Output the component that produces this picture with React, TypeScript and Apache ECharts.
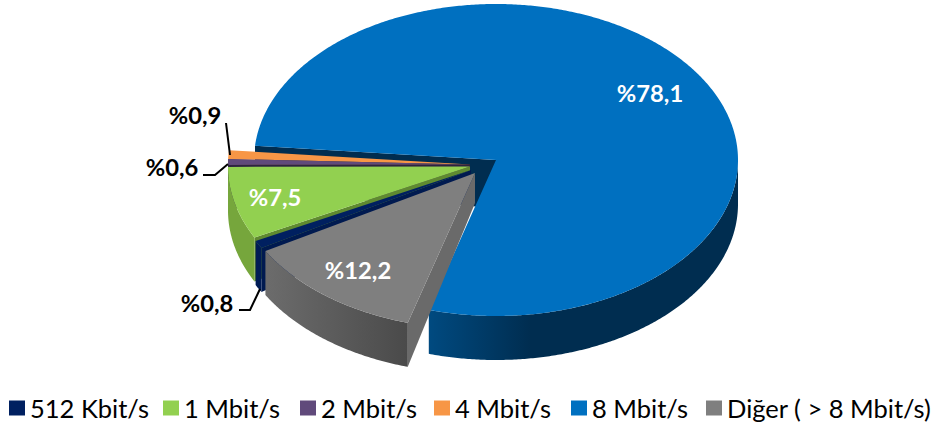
import React, { useEffect, useRef } from "react";
import * as echarts from "echarts";

const categories = ["512 Kbit/s", "1 Mbit/s", "2 Mbit/s", "4 Mbit/s", "8 Mbit/s", "Diğer ( > 8 Mbit/s)"];
const values = [0.8, 7.5, 0.6, 0.9, 78.1, 12.2];
const total = values.reduce((a, b) => a + b, 0);

const topColors = ["#002060", "#92D050", "#604A7B", "#F79646", "#0070C0", "#7F7F7F"];
const sideColors = [["#001C55", "#001C55"], ["#76A63C", "#76A63C"], ["#3A2C4C", "#3A2C4C"], ["#A0602A", "#A0602A"], ["#004A80", "#002D50"], ["#6C6C6C", "#4A4A4A"]];
const wallColors = ["#001A50", "#5F8A30", "#2E2340", "#5A3A1E", "#002D50", "#6A6A6A"];
const apexes = [[471, 170], [470, 166.5], [470, 164.5], [470, 164.5], [496, 160], [475, 173]];
const apexDepths = [30, 30, 30, 30, 48, 30];
const drawOrder = [5, 4, 3, 2, 1, 6];

const legendLefts = [9, 163, 300, 434, 571, 706];
const labelPositions = [[207, 303], [275, 197], [172, 167], [195, 115], [650, 93], [358, 270]];
const labelColors = ["#000", "#fff", "#000", "#000", "#fff", "#fff"];
const LABEL_SIZE = 22;
const LABEL_STRETCH = 1.08;
const leaders: number[][][] = [
  [[239, 310], [250, 310], [260, 289]],
  [],
  [[203, 175], [215, 175], [228, 164]],
  [[226, 123], [230, 155]],
  [],
  [],
];

const RX = 242;
const RY = 156;
const RIM_DEPTH = 44;
const START_DEG = 150;
const FONT = "Lato, Carlito, sans-serif";

const rad = (d: number) => (d * Math.PI) / 180;

function sliceRange(i: number): [number, number] {
  let a = START_DEG;
  for (let k = 0; k < i; k++) a += (values[k] / total) * 360;
  return [a, a + (values[i] / total) * 360];
}

function arc(cx: number, cy: number, from: number, to: number): number[][] {
  const n = Math.max(2, Math.ceil(Math.abs(to - from) / 0.5));
  const pts: number[][] = [];
  for (let k = 0; k <= n; k++) {
    const t = rad(from + ((to - from) * k) / n);
    pts.push([cx + RX * Math.cos(t), cy + RY * Math.sin(t)]);
  }
  return pts;
}

function makeRenderItem(i: number) {
  return () => {
    const [a0, a1] = sliceRange(i);
    const [cx, cy] = apexes[i];
    const children: any[] = [];
    const rim0 = [cx + RX * Math.cos(rad(a0)), cy + RY * Math.sin(rad(a0))];
    const rim1 = [cx + RX * Math.cos(rad(a1)), cy + RY * Math.sin(rad(a1))];

    const wall = (rim: number[]) => ({
      type: "polygon",
      shape: { points: [[cx, cy], rim, [rim[0], rim[1] + RIM_DEPTH], [cx, cy + apexDepths[i]]] },
      style: { fill: wallColors[i] },
    });
    if (Math.sin(rad(a0 - 90)) > 0) children.push(wall(rim0));
    if (Math.sin(rad(a1 + 90)) > 0) children.push(wall(rim1));

    for (const base of [0, 360]) {
      const from = Math.max(a0, base);
      const to = Math.min(a1, base + 180);
      if (to > from) {
        const top = arc(cx, cy, from, to);
        const bottom = top.map((p) => [p[0], p[1] + RIM_DEPTH]).reverse();
        const isBlue = i === 4;
        const dir = i === 5 ? [1, 0, 0, 0] : [0, 0, 1, 0];
        children.push({
          type: "polygon",
          shape: { points: [...top, ...bottom] },
          style: {
            fill: new echarts.graphic.LinearGradient(dir[0], dir[1], dir[2], dir[3],
              isBlue
                ? [{ offset: 0, color: sideColors[i][0] }, { offset: 0.33, color: sideColors[i][1] }, { offset: 1, color: sideColors[i][1] }]
                : [{ offset: 0, color: i === 5 ? sideColors[i][1] : sideColors[i][0] }, { offset: 1, color: i === 5 ? sideColors[i][0] : sideColors[i][1] }]),
          },
        });
      }
    }

    children.push({
      type: "polygon",
      shape: { points: [[cx, cy], ...arc(cx, cy, a0, a1)] },
      style: { fill: topColors[i] },
    });

    if (leaders[i].length) {
      children.push({
        type: "polyline",
        shape: { points: leaders[i] },
        style: { stroke: "#000", lineWidth: 2, fill: "none" },
      });
    }

    children.push({
      type: "text",
      x: labelPositions[i][0],
      y: labelPositions[i][1],
      scaleX: LABEL_STRETCH,
      style: {
        text: "%" + values[i].toFixed(1).replace(".", ","),
        x: 0,
        y: 0,
        fill: labelColors[i],
        fontFamily: FONT,
        fontWeight: "bold",
        fontSize: LABEL_SIZE,
        textAlign: "center",
        textVerticalAlign: "middle",
      },
    });

    return { type: "group", children };
  };
}

export default function App() {
  const ref = useRef<HTMLDivElement>(null);
  useEffect(() => {
    const chart = echarts.init(ref.current!, undefined, { renderer: "svg" });
    chart.setOption({
      animation: false,
      backgroundColor: "#fff",
      legend: categories.map((name, i) => ({
        data: [name],
        left: legendLefts[i],
        top: 395,
        padding: 0,
        icon: "rect",
        itemWidth: 16,
        itemHeight: 15,
        textStyle: { fontFamily: FONT, fontSize: 25.5, color: "#000" },
        selectedMode: false,
      })),
      series: categories.map((name, i) => ({
        type: "custom",
        name,
        coordinateSystem: "none",
        z: drawOrder[i],
        silent: true,
        itemStyle: { color: topColors[i] },
        data: [[values[i]]],
        renderItem: makeRenderItem(i),
      })),
    });
    return () => chart.dispose();
  }, []);
  return <div ref={ref} style={{ position: "absolute", left: 0, top: 0, width: 935, height: 427 }} />;
}
